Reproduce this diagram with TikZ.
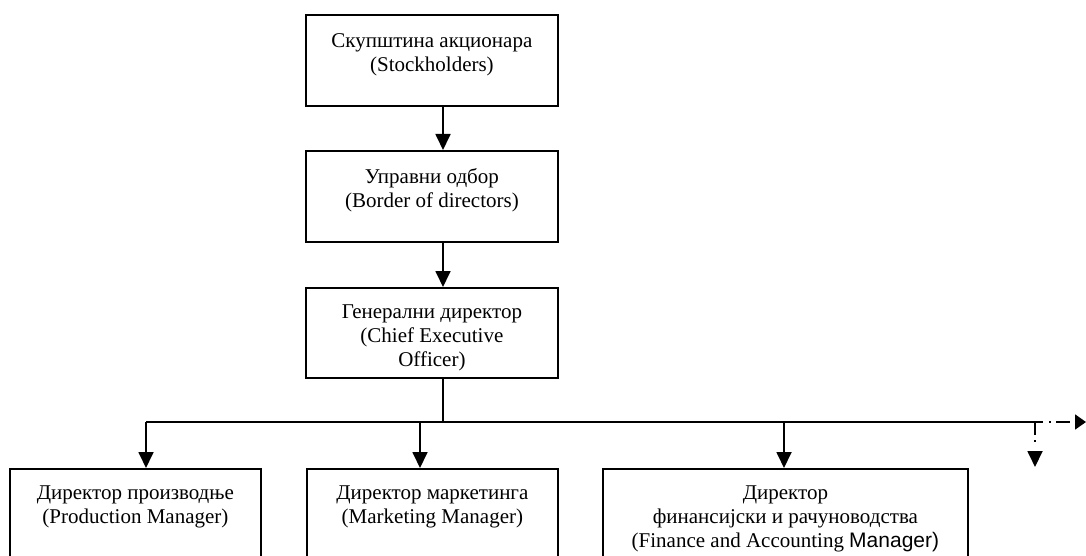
\documentclass[tikz,border=0pt]{standalone}
\usepackage{fontspec}
\setmainfont{Liberation Serif}
\newfontfamily\arialf{Liberation Sans}
\usetikzlibrary{arrows.meta}
\begin{document}
\begin{tikzpicture}[x=1pt,y=-1pt,
  box/.style={draw, line width=1.8pt, anchor=north west, inner sep=0pt},
  txt/.style={anchor=north, align=center, inner sep=0pt, font=\fontsize{21}{24}\selectfont},
  conn/.style={line width=1.8pt},
  arr/.style={line width=1.8pt, -{Triangle[length=16pt,width=15pt]}},
  ddh/.style={line width=1.8pt, dash pattern=on 8pt off 6pt on 2pt off 5pt on 14pt off 40pt},
  ddv/.style={line width=1.8pt, dash pattern=on 13pt off 5pt on 2pt off 40pt}]
\useasboundingbox (0,0) rectangle (1086,556);
\clip (0,0) rectangle (1086,556);
\fill[white] (0,0) rectangle (1086,556);
% boxes
\node[box, minimum width=252pt, minimum height=91pt] (sh) at (305,14) {};
\node[box, minimum width=252pt, minimum height=91pt] (bd) at (305,150) {};
\node[box, minimum width=252pt, minimum height=90pt] (ceo) at (305,287) {};
\node[box, minimum width=251pt, minimum height=120pt] (pm) at (9,468) {};
\node[box, minimum width=251pt, minimum height=120pt] (mm) at (306,468) {};
\node[box, minimum width=365pt, minimum height=120pt] (fm) at (602,468) {};
% texts
\node[txt] (tsh) at ([yshift=-19pt]sh.north) {Скупштина акционара\\(Stockholders)};
\node[txt] (tbd) at ([yshift=-18pt]bd.north) {Управни одбор\\(Border of directors)};
\node[txt] (tceo) at ([yshift=-18pt]ceo.north) {Генерални директор\\(Chief Executive\\Officer)};
\node[txt] (tpm) at ([yshift=-18pt]pm.north) {Директор производње\\(Production Manager)};
\node[txt] (tmm) at ([yshift=-18pt]mm.north) {Директор маркетинга\\(Marketing Manager)};
\node[txt] (tfm) at ([yshift=-18pt]fm.north) {Директор\\финансијски и рачуноводства\\(Finance and Accounting {\arialf Manager)}};
% connectors
\coordinate (a1) at (443,0);
\draw[arr] (a1 |- sh.south) -- (a1 |- bd.north);
\draw[arr] (a1 |- bd.south) -- (a1 |- ceo.north);
\coordinate (bus) at (443,422);
\coordinate (b1) at (146,422);
\coordinate (b2) at (420,422);
\coordinate (b3) at (784,422);
\coordinate (bend) at (1035,422);
\coordinate (hend) at (1043,422);
\coordinate (rend) at (1086,422);
\coordinate (dend) at (1035,467);
\draw[conn] (bus |- ceo.south) -- (bus);
\draw[conn] (b1) -- (hend);
\draw[arr] (b1) -- (b1 |- pm.north);
\draw[arr] (b2) -- (b2 |- mm.north);
\draw[arr] (b3) -- (b3 |- fm.north);
\draw[ddh, -{Triangle[length=11pt,width=15pt]}] (bend) -- (rend);
\draw[ddv, -{Triangle[length=16pt,width=15pt]}] (bend) -- (dend);
\end{tikzpicture}
\end{document}
